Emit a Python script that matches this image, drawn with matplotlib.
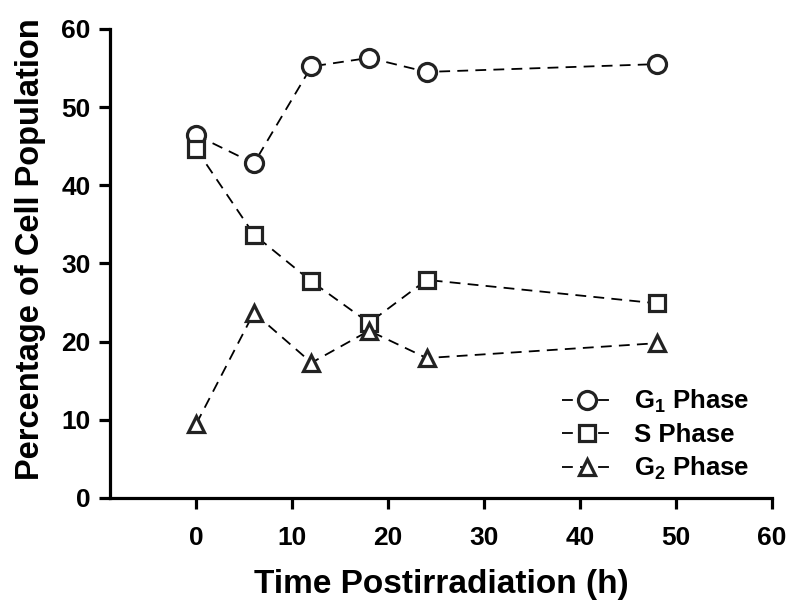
import matplotlib.pyplot as plt

plt.rcParams['font.family'] = 'Liberation Sans'
plt.rcParams['font.weight'] = 'bold'
plt.rcParams['mathtext.fontset'] = 'custom'
plt.rcParams['mathtext.rm'] = 'Liberation Sans:bold'
plt.rcParams['mathtext.bf'] = 'Liberation Sans:bold'
plt.rcParams['mathtext.default'] = 'bf'

hours = [0, 6, 12, 18, 24, 48]
g1_phase = [46.4, 42.8, 55.2, 56.3, 54.5, 55.5]
s_phase = [44.6, 33.7, 27.7, 22.4, 27.9, 24.9]
g2_phase = [9.5, 23.7, 17.3, 21.4, 17.9, 19.8]

labels = ['G$_1$ Phase', 'S Phase', 'G$_2$ Phase']
markers = ['o', 's', '^']

fig = plt.figure(figsize=(8, 6.16), dpi=100)
ax = fig.add_axes([0.1375, 0.1916, 0.8275, 0.7614])

for vals, m, lab in zip([g1_phase, s_phase, g2_phase], markers, labels):
    ax.plot(hours, vals, color='black', linestyle=(0, (6, 4)), linewidth=1.3,
            marker=m, markersize=13 if m == 'o' else 12, markerfacecolor='white',
            markeredgecolor='#222222', markeredgewidth=2.3, label=lab)

ax.set_xlim(-9, 60)
ax.set_ylim(0, 60)
ax.set_xticks(range(0, 61, 10))
ax.set_yticks(range(0, 61, 10))
ax.spines['top'].set_visible(False)
ax.spines['right'].set_visible(False)
for s in ['left', 'bottom']:
    ax.spines[s].set_linewidth(2.3)
ax.tick_params(width=2.3, length=8, labelsize=19)
ax.tick_params(axis='x', pad=12)
ax.tick_params(axis='y', pad=6)
for t in ax.get_xticklabels() + ax.get_yticklabels():
    t.set_fontweight('bold')

ax.set_xlabel('Time Postirradiation (h)', fontsize=24, fontweight='bold', labelpad=14)
ax.set_ylabel('Percentage of Cell Population', fontsize=23.5, fontweight='bold', labelpad=8)
ax.yaxis.set_label_coords(-0.097, 0.53)

leg = ax.legend(loc='lower right', bbox_to_anchor=(1.0, -0.015), frameon=False,
                handlelength=2.0, labelspacing=0.3, handletextpad=0.8,
                prop={'weight': 'bold', 'size': 18.5})

fig.savefig('out.png', dpi=100)
